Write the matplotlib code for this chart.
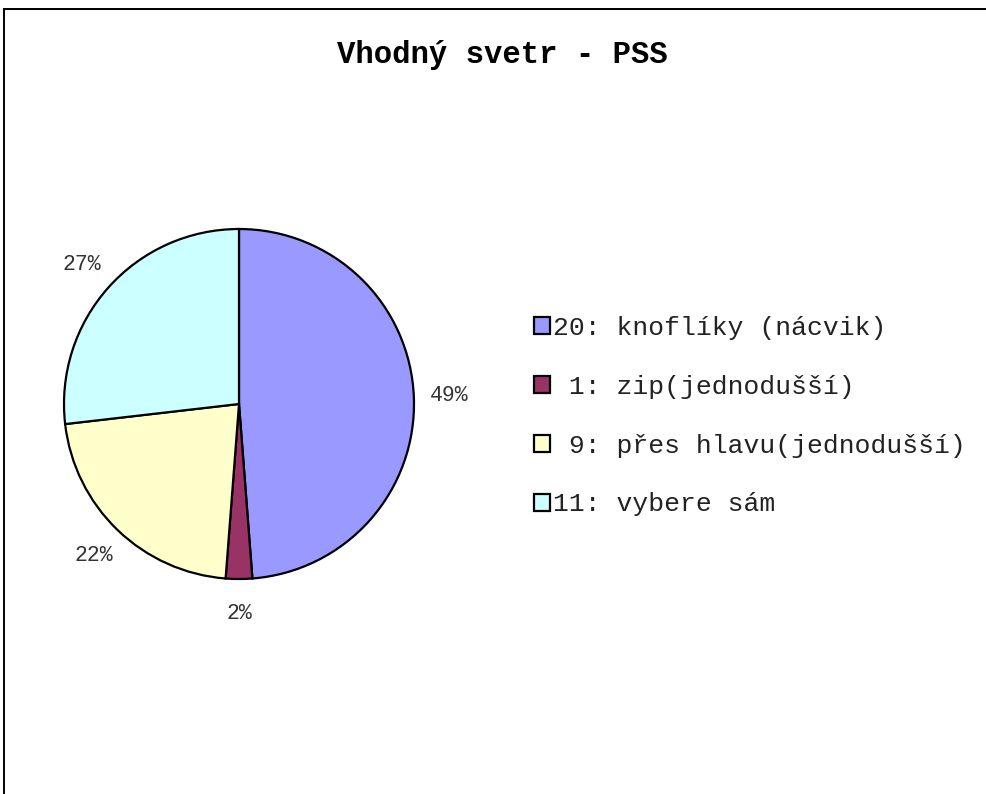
import matplotlib
matplotlib.use('Agg')
import matplotlib.pyplot as plt
from matplotlib.lines import Line2D

plt.rcParams['font.family'] = ['Liberation Mono', 'DejaVu Sans Mono']

# Data
counts = [20, 1, 9, 11]
names = ['knoflíky (nácvik)', 'zip(jednodušší)', 'přes hlavu(jednodušší)', 'vybere sám']
colors = ['#9999FF', '#993366', '#FFFFCC', '#CCFFFF']
title = 'Vhodný svetr - PSS'

W, H = 987, 794
fig = plt.figure(figsize=(W / 100, H / 100), dpi=100)

# pie area: centre (239, 404), radius 175 px
ax = fig.add_axes([64 / W, 1 - 579 / H, 350 / W, 350 / H])
wedges, texts, autotexts = ax.pie(
    counts, colors=colors, startangle=90, counterclock=False,
    autopct='%1.0f%%', pctdistance=1.2,
    wedgeprops=dict(edgecolor='black', linewidth=1.6),
    textprops=dict(fontsize=15.5, color='#333333',
                   family=['Liberation Mono', 'DejaVu Sans Mono']))
ax.set_xlim(-1, 1)
ax.set_ylim(-1, 1)
ax.set_aspect('equal')

fig.text(502 / W, 1 - 55 / H, title, ha='center', va='center',
         fontsize=22.1, fontweight='bold')

labels = [f'{c:2d}: {n}' for c, n in zip(counts, names)]
fig.legend(wedges, labels, loc='upper left',
           bbox_to_anchor=(534 / W, 1 - 316 / H), bbox_transform=fig.transFigure,
           frameon=False, fontsize=19, handlelength=0.6, handleheight=0.6,
           handletextpad=0.12, labelspacing=1.32, borderpad=0, borderaxespad=0,
           labelcolor='#222222')

# outer frame (top and left edges visible)
fig.add_artist(Line2D([4 / W, 1.0], [1 - 9 / H, 1 - 9 / H], color='black', lw=1.4,
                      transform=fig.transFigure))
fig.add_artist(Line2D([4 / W, 4 / W], [1 - 9 / H, 0], color='black', lw=1.4,
                      transform=fig.transFigure))

fig.savefig('out.png', dpi=100)
